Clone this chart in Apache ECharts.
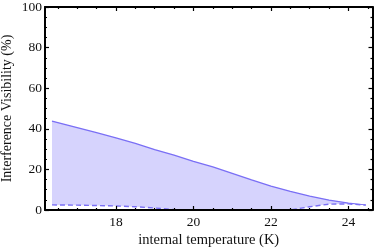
<!DOCTYPE html>
<html><head><meta charset="utf-8">
<script src="https://cdn.jsdelivr.net/npm/echarts@6/dist/echarts.min.js"></script>
<style>html,body{margin:0;padding:0;background:#fff}#c{width:374px;height:249px}</style>
</head><body><div id="c"></div>
<script>
var temps = [16.35, 17, 17.5, 18, 18.5, 19, 19.5, 20, 20.5, 21, 21.5, 22, 22.5, 23, 23.5, 24, 24.45];
var upper = [43.8, 40.6, 38.1, 35.5, 32.8, 29.8, 27.0, 24.0, 21.2, 18.0, 14.8, 11.8, 9.2, 6.8, 4.9, 3.4, 2.4];
var lower = [2.5, 2.4, 2.2, 2.0, 1.6, 1.0, 0.2, 0, 0, 0, 0, 0, 0, 1.6, 2.9, 3.0, 2.4];
var xMajor = [18, 20, 22, 24];
var xMinor = [16.5, 17, 17.5, 18.5, 19, 19.5, 20.5, 21, 21.5, 22.5, 23, 23.5, 24.5];
var xName = 'internal temperature (K)';
var yName = 'Interference Visibility (%)';

var font = "'Liberation Serif','DejaVu Serif',serif";
var lineColor = '#7a6ff5';
var fillColor = '#d6d3fd';
var xmin = 16.17, xmax = 24.62;
var gridBox = {left: 45, right: 1.5, top: 7, bottom: 39, containLabel: false, outerBoundsMode: 'none'};

function xAx(grid, pos, ticks, len, showLine, showLabel, name) {
  return {
    type: 'value', gridIndex: grid, position: pos, min: xmin, max: xmax, z: 10,
    name: name || '', nameLocation: 'middle', nameGap: 23, nameMoveOverlap: false,
    nameTextStyle: {fontFamily: font, fontSize: 14.5, color: '#111'},
    axisLine: {show: showLine, onZero: false, lineStyle: {color: '#000', width: 2}},
    axisTick: {show: true, inside: true, length: len, customValues: ticks, lineStyle: {color: '#000', width: 1.2}},
    axisLabel: {show: showLabel, customValues: ticks, fontFamily: font, fontSize: 13.5, color: '#111', margin: 5},
    splitLine: {show: false}
  };
}
function yAx(grid, pos, show, showLabel, name) {
  return {
    type: 'value', gridIndex: grid, position: pos, min: 0, max: 100, interval: 20, z: 10, show: show,
    name: name || '', nameLocation: 'middle', nameGap: 31, nameMoveOverlap: false,
    nameTextStyle: {fontFamily: font, fontSize: 14, color: '#111'},
    axisLine: {show: true, onZero: false, lineStyle: {color: '#000', width: 2}},
    axisTick: {show: true, inside: true, length: 4, lineStyle: {color: '#000', width: 1.2}},
    minorTick: {show: true, splitNumber: 4, length: 2, lineStyle: {color: '#000', width: 1.2}},
    axisLabel: {show: showLabel, fontFamily: font, fontSize: 13.5, color: '#111', margin: 3},
    splitLine: {show: false}
  };
}

var chart = echarts.init(document.getElementById('c'), null, {renderer: 'canvas'});
chart.setOption({
  animation: false,
  grid: [Object.assign({}, gridBox), Object.assign({}, gridBox)],
  xAxis: [
    xAx(0, 'bottom', xMajor, 4, true, true, xName),
    xAx(0, 'top', xMajor, 4, true, false),
    xAx(1, 'bottom', xMinor, 2, false, false),
    xAx(1, 'top', xMinor, 2, false, false)
  ],
  yAxis: [yAx(0, 'left', true, true, yName), yAx(0, 'right', true, false), yAx(1, 'left', false, false)],
  series: [
    {type: 'line', xAxisIndex: 0, yAxisIndex: 0, symbol: 'none', z: 2,
     data: temps.map(function (t, i) { return [t, upper[i]]; }),
     lineStyle: {color: lineColor, width: 1.3},
     areaStyle: {color: fillColor, opacity: 1}},
    {type: 'line', xAxisIndex: 0, yAxisIndex: 0, symbol: 'none', z: 3,
     data: temps.map(function (t, i) { return [t, lower[i]]; }),
     lineStyle: {color: lineColor, width: 1.4, type: [5, 3]},
     areaStyle: {color: '#ffffff', opacity: 1}}
  ]
});
</script></body></html>
